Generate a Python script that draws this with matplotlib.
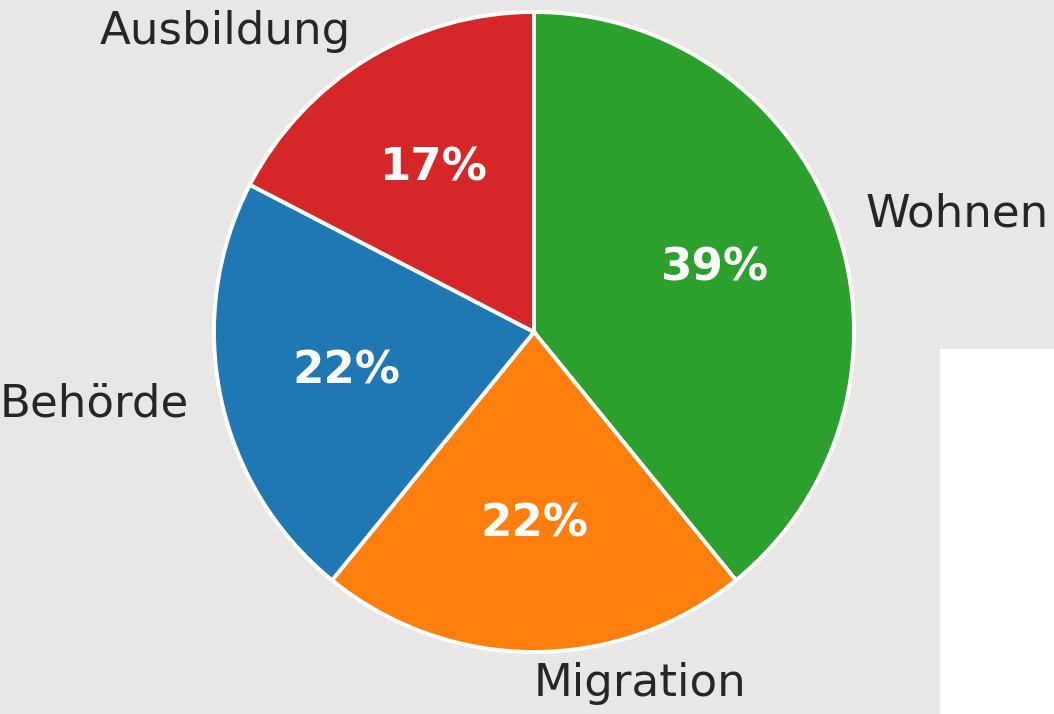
import matplotlib.pyplot as plt
import matplotlib.patches as mpatches

# Anteile je Bereich (Anzahl Nennungen)
labels = ['Wohnen', 'Migration', 'Behörde', 'Ausbildung']
counts = [9, 5, 5, 4]
colors = ['#2ca02c', '#ff7f0e', '#1f77b4', '#d62728']

bg = '#e9e7e5'
fig = plt.figure(figsize=(10.54, 7.14), dpi=100, facecolor=bg)

# white block in the lower right corner
fig.patches.append(mpatches.Rectangle((940 / 1054, 0), 114 / 1054, 365 / 714,
                                      transform=fig.transFigure, facecolor='white',
                                      edgecolor='none', zorder=0))

ax = fig.add_axes([134 / 1054, -18 / 714, 800 / 1054, 800 / 714])
ax.set_facecolor('none')

wedges, texts, autotexts = ax.pie(
    counts, labels=labels, colors=colors, startangle=90, counterclock=False,
    autopct='%1.0f%%', pctdistance=0.6, labeldistance=1.1,
    wedgeprops={'edgecolor': 'white', 'linewidth': 2.8},
    textprops={'fontsize': 32.5, 'color': '#262626'})

# Migration sits right at the bottom, label runs to the right
texts[1].set_ha('left')

for t in autotexts:
    t.set_color('white')
    t.set_fontweight('bold')

ax.set_xlim(-1.25, 1.25)
ax.set_ylim(-1.25, 1.25)
ax.set_aspect('equal')

fig.savefig('out.png', dpi=100, facecolor=bg)
